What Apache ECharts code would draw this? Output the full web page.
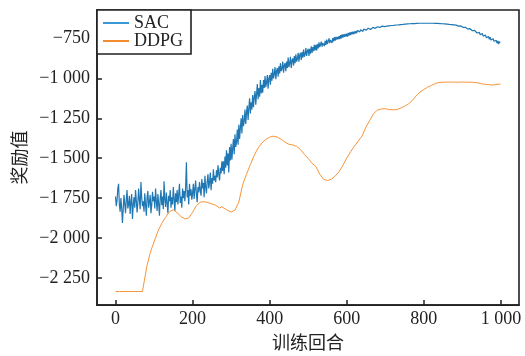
<!DOCTYPE html>
<html>
<head>
<meta charset="utf-8">
<script src="https://cdn.jsdelivr.net/npm/echarts@6/dist/echarts.min.js"></script>
<style>
  html, body { margin: 0; padding: 0; background: #fff; }
  #chart { width: 525px; height: 356px; }
</style>
</head>
<body>
<div id="chart"></div>
<script>
// SAC reward, one reading every 2 episodes (0..998)
const sacStep = 2;
const sacReward = [
  -1740, -1800, -1765, -1690, -1660, -1790, -1835, -1750, -1810, -1905,
  -1820, -1730, -1785, -1845, -1760, -1700, -1815, -1790, -1735, -1850,
  -1770, -1725, -1880, -1795, -1745, -1810, -1700, -1765, -1840, -1780,
  -1690, -1760, -1820, -1650, -1745, -1800, -1770, -1835, -1720, -1790,
  -1860, -1745, -1705, -1810, -1775, -1730, -1845, -1795, -1710, -1770,
  -1740, -1815, -1690, -1770, -1830, -1725, -1785, -1860, -1750, -1700,
  -1795, -1740, -1820, -1645, -1760, -1805, -1715, -1780, -1845, -1735,
  -1770, -1700, -1810, -1745, -1790, -1680, -1755, -1830, -1720, -1775,
  -1700, -1790, -1725, -1660, -1780, -1740, -1810, -1690, -1750, -1705,
  -1770, -1680, -1525, -1745, -1700, -1790, -1660, -1735, -1695, -1760,
  -1720, -1660, -1755, -1690, -1640, -1730, -1775, -1680, -1715, -1650,
  -1700, -1735, -1630, -1690, -1655, -1745, -1610, -1680, -1720, -1645,
  -1600, -1690, -1655, -1590, -1700, -1625, -1660, -1570, -1640, -1610,
  -1650, -1575, -1620, -1545, -1600, -1640, -1560, -1595, -1520, -1580,
  -1520, -1600, -1490, -1560, -1450, -1545, -1470, -1590, -1430, -1515,
  -1410, -1510, -1440, -1380, -1475, -1350, -1430, -1400, -1320, -1415,
  -1290, -1380, -1310, -1250, -1345, -1230, -1300, -1270, -1195, -1285,
  -1215, -1170, -1260, -1185, -1125, -1220, -1150, -1195, -1105, -1180,
  -1120, -1080, -1165, -1100, -1035, -1130, -1060, -1115, -1010, -1095,
  -1040, -1090, -1010, -1060, -985, -1055, -1025, -980, -1065, -1000,
  -980, -1040, -965, -1015, -940, -1000, -975, -930, -1005, -955,
  -935, -990, -925, -970, -905, -955, -940, -895, -965, -920,
  -905, -955, -895, -935, -870, -930, -905, -865, -935, -890,
  -875, -920, -860, -905, -850, -895, -880, -840, -895, -855,
  -840, -885, -835, -870, -820, -865, -850, -810, -860, -830,
  -815, -860, -815, -845, -800, -840, -805, -830, -790, -825,
  -790, -825, -785, -812, -775, -805, -788, -770, -802, -778,
  -770, -798, -765, -790, -758, -785, -768, -750, -780, -760,
  -755, -778, -748, -768, -742, -764, -740, -758, -740, -755,
  -735, -755, -730, -750, -725, -745, -725, -740, -722, -738,
  -720, -738, -716, -733, -712, -729, -710, -724, -708, -722,
  -706, -720, -703, -716, -700, -712, -697, -709, -696, -706,
  -695, -706, -692, -702, -689, -699, -687, -697, -686, -694,
  -685, -694, -683, -691, -681, -689, -680, -687, -678, -684,
  -677, -683, -675, -681, -674, -679, -673, -678, -672, -676,
  -674, -674, -673, -672, -672, -671, -671, -670, -669, -669,
  -668, -668, -667, -667, -666, -666, -665, -665, -664, -664,
  -663, -663, -662, -662, -661, -661, -660, -660, -660, -659,
  -659, -659, -658, -658, -658, -657, -657, -657, -657, -656,
  -656, -656, -656, -656, -655, -655, -655, -655, -655, -655,
  -655, -655, -655, -655, -655, -655, -655, -655, -655, -655,
  -655, -655, -655, -656, -656, -656, -656, -656, -656, -657,
  -657, -657, -657, -658, -658, -658, -659, -659, -659, -660,
  -660, -661, -661, -662, -662, -663, -663, -664, -665, -665,
  -666, -669, -667, -671, -668, -673, -670, -676, -672, -678,
  -674, -681, -677, -685, -680, -688, -683, -692, -686, -695,
  -689, -698, -692, -702, -696, -707, -700, -712, -704, -716,
  -707, -720, -712, -726, -716, -731, -720, -736, -725, -740,
  -728, -745, -733, -750, -738, -756, -742, -760, -748, -765,
  -752, -768, -757, -775, -762, -780, -766, -785, -770, -778
];
const sacEpisodes = sacReward.map((_, i) => i * sacStep);

// DDPG reward (smooth curve)
const ddpgEpisodes = [
  0, 10, 20, 30, 40, 50, 60, 70, 73, 76, 82, 90, 95, 100, 110, 120, 130, 140, 150,
  160, 170, 180, 190, 200, 210, 220, 230, 240, 250, 260, 270, 276, 280, 290, 300,
  310, 320, 330, 340, 350, 360, 370, 380, 390, 400, 410, 420, 430, 440, 450,
  460, 470, 480, 490, 500, 510, 520, 530, 540, 550, 560, 570, 580, 590, 600,
  610, 620, 630, 640, 650, 660, 670, 680, 690, 700, 710, 720, 730, 740, 750,
  760, 770, 780, 790, 800, 810, 820, 830, 840, 850, 860, 870, 880, 890, 900,
  910, 920, 930, 940, 950, 960, 970, 980, 990, 999
];
const ddpgReward = [
  -2335, -2335, -2335, -2335, -2335, -2335, -2335, -2335, -2335, -2250, -2170, -2095, -2057, -2025, -1958, -1908, -1870, -1835, -1823,
  -1842, -1866, -1880, -1874, -1840, -1796, -1776, -1772, -1778, -1786, -1795, -1812, -1804, -1810, -1826, -1837,
  -1826, -1775, -1665, -1600, -1540, -1482, -1436, -1405, -1382, -1368, -1362, -1368, -1382, -1400, -1413,
  -1417, -1426, -1446, -1476, -1502, -1532, -1552, -1600, -1632, -1640, -1632, -1612, -1585, -1545, -1500,
  -1460, -1425, -1392, -1360, -1305, -1262, -1220, -1198, -1192, -1190, -1195, -1197, -1196, -1186, -1175,
  -1160, -1140, -1110, -1086, -1070, -1055, -1044, -1032, -1026, -1024, -1024, -1023, -1024, -1024, -1023,
  -1024, -1024, -1026, -1028, -1034, -1038, -1040, -1042, -1038, -1036
];

const xTicks = [0, 200, 400, 600, 800, 1000];
const yTicks = [-2250, -2000, -1750, -1500, -1250, -1000, -750];

const fmtNum = (v) => {
  const s = String(Math.abs(v)).replace(/\B(?=(\d{3})+(?!\d))/g, " ");
  return (v < 0 ? "\u2212" : "") + s;
};

const serif = "'Liberation Serif', 'DejaVu Serif', serif";
const cjk = "'Noto Sans CJK SC', sans-serif";
const ink = "#222";

const chart = echarts.init(document.getElementById("chart"));
chart.setOption({
  animation: false,
  backgroundColor: "#fff",
  grid: {
    left: 97, top: 10, right: 6, bottom: 44,
    show: true, borderColor: ink, borderWidth: 1.6,
  },
  legend: {
    left: 97, top: 10,
    orient: "vertical",
    itemWidth: 26, itemHeight: 2, itemGap: 0,
    padding: [4, 8, 4, 6],
    borderColor: ink, borderWidth: 1.6,
    backgroundColor: "#fff",
    icon: "rect",
    textStyle: { fontFamily: serif, fontSize: 18, lineHeight: 17, color: ink },
    data: [
      { name: "SAC", itemStyle: { color: "#3a98d6" } },
      { name: "DDPG", itemStyle: { color: "#f28c2e" } },
    ],
  },
  xAxis: {
    type: "value",
    min: -48, max: 1047,
    name: "训练回合",
    nameLocation: "middle",
    nameGap: 25,
    nameTextStyle: { fontFamily: cjk, fontSize: 18, color: ink, verticalAlign: "top" },
    axisLine: { show: true, onZero: false, lineStyle: { color: ink, width: 1.6 } },
    splitLine: { show: false },
    axisTick: { show: true, inside: true, length: 5, customValues: xTicks, lineStyle: { color: ink, width: 1.5 } },
    axisLabel: { customValues: xTicks, formatter: fmtNum, fontFamily: serif, fontSize: 18, color: ink, margin: 5 },
  },
  yAxis: {
    type: "value",
    min: -2420, max: -572,
    name: "奖励值",
    nameLocation: "middle",
    nameGap: 68,
    nameTextStyle: { fontFamily: cjk, fontSize: 18, color: ink },
    axisLine: { show: true, onZero: false, lineStyle: { color: ink, width: 1.6 } },
    splitLine: { show: false },
    axisTick: { show: true, inside: true, length: 5, customValues: yTicks, lineStyle: { color: ink, width: 1.5 } },
    axisLabel: { customValues: yTicks, formatter: fmtNum, fontFamily: serif, fontSize: 18, color: ink, margin: 7 },
  },
  series: [
    {
      name: "SAC",
      type: "line",
      showSymbol: false,
      color: "#1f77b4",
      lineStyle: { color: "#1f77b4", width: 1.2 },
      data: sacEpisodes.map((x, i) => [x, sacReward[i]]),
    },
    {
      name: "DDPG",
      type: "line",
      showSymbol: false,
      color: "#f7953a",
      lineStyle: { color: "#f7953a", width: 1 },
      data: ddpgEpisodes.map((x, i) => [x, ddpgReward[i]]),
    },
  ],
});
</script>
</body>
</html>
